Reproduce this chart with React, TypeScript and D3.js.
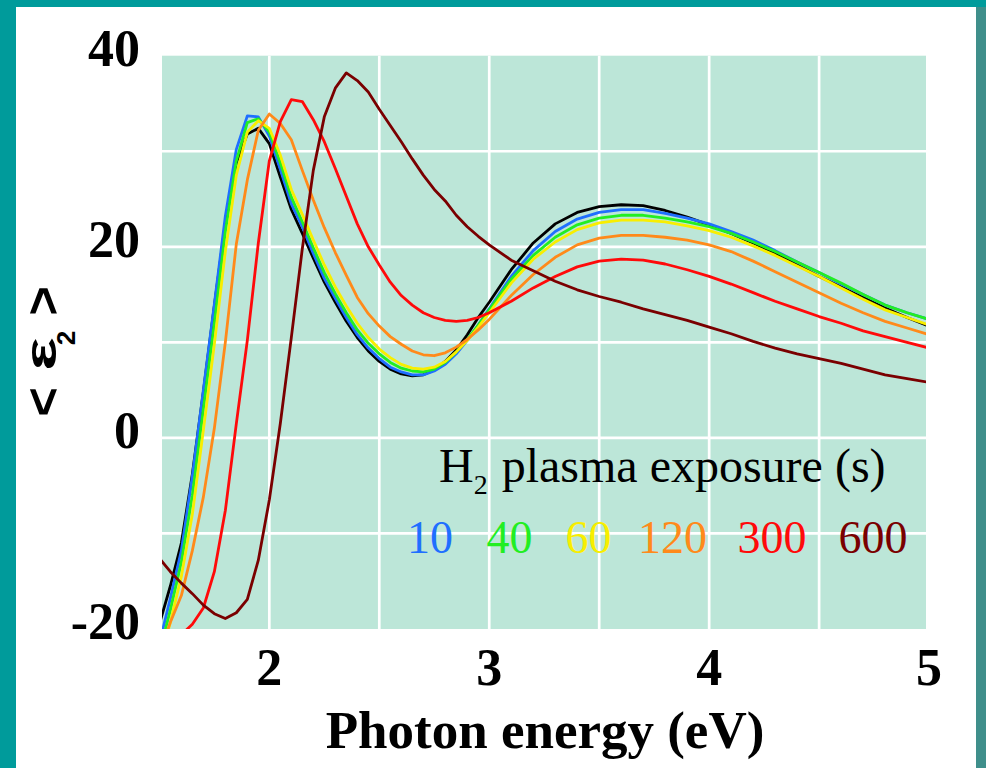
import React from 'react';
import * as d3 from 'd3';

// Photon energy grid (eV) shared by all spectra
const energies = [
  1.5, 1.55, 1.6, 1.65, 1.7, 1.75, 1.8, 1.85, 1.9, 1.95,
  2.0, 2.05, 2.1, 2.15, 2.2, 2.25, 2.3, 2.35, 2.4, 2.45,
  2.5, 2.55, 2.6, 2.65, 2.7, 2.75, 2.8, 2.85, 2.9, 2.95,
  3.0, 3.1, 3.2, 3.3, 3.4, 3.5, 3.6, 3.7, 3.8, 3.9,
  4.0, 4.1, 4.2, 4.3, 4.4, 4.5, 4.6, 4.7, 4.8, 4.9, 5.0,
];

// <ε2> spectra, one array per exposure time
const eps0 = [
  -19.5, -15.5, -11.0, -3.8, 4.8, 13.8, 22.5, 28.8, 31.8, 32.4,
  30.8, 27.3, 23.9, 21.4, 18.8, 16.3, 14.2, 12.2, 10.5, 9.1,
  8.0, 7.2, 6.7, 6.5, 6.6, 7.1, 8.0, 9.2, 10.8, 12.6,
  14.2, 17.6, 20.4, 22.4, 23.6, 24.2, 24.4, 24.3, 23.8, 23.1,
  22.3, 21.4, 20.4, 19.3, 18.1, 16.9, 15.8, 14.7, 13.6, 12.6, 11.7,
];
const eps10 = [
  -21.5, -16.8, -11.8, -4.0, 5.0, 14.0, 23.2, 30.2, 33.7, 33.6,
  31.6, 28.1, 24.5, 22.1, 19.3, 16.7, 14.6, 12.6, 10.8, 9.4,
  8.3, 7.4, 6.9, 6.6, 6.6, 7.0, 7.7, 8.8, 10.2, 11.8,
  13.5, 16.9, 19.6, 21.6, 22.9, 23.6, 23.9, 23.9, 23.5, 23.0,
  22.4, 21.6, 20.7, 19.6, 18.4, 17.3, 16.1, 15.0, 13.9, 13.1, 12.4,
];
const eps40 = [
  -22.5, -18.0, -13.0, -6.0, 3.0, 12.0, 21.6, 29.0, 33.0, 33.4,
  32.0, 28.8, 25.2, 22.6, 19.9, 17.3, 15.1, 13.1, 11.3, 9.9,
  8.8, 7.9, 7.3, 7.0, 6.9, 7.2, 7.9, 9.0, 10.3, 11.8,
  13.4, 16.6, 19.1, 21.0, 22.3, 23.0, 23.3, 23.3, 23.0, 22.6,
  22.1, 21.4, 20.5, 19.5, 18.4, 17.3, 16.2, 15.0, 13.9, 13.1, 12.4,
];
const eps60 = [
  -23.5, -19.3, -14.5, -8.0, 0.8, 9.8, 19.5, 27.5, 32.0, 33.2,
  32.4, 29.6, 26.0, 23.4, 20.7, 18.1, 15.8, 13.8, 12.0, 10.5,
  9.3, 8.4, 7.7, 7.3, 7.2, 7.4, 8.0, 9.0, 10.2, 11.6,
  13.1, 16.2, 18.7, 20.5, 21.8, 22.5, 22.8, 22.8, 22.6, 22.2,
  21.7, 21.0, 20.1, 19.1, 18.0, 16.9, 15.7, 14.5, 13.4, 12.6, 11.8,
];
const eps120 = [
  -22.5, -19.3, -16.5, -11.8, -6.2, 1.0, 10.0, 20.3, 27.0, 32.2,
  33.9, 32.9, 31.2, 28.0, 24.9, 22.0, 19.4, 17.0, 14.7, 13.0,
  11.7, 10.6, 9.8, 9.1, 8.7, 8.6, 8.9, 9.5, 10.3, 11.3,
  12.4, 14.9, 17.1, 18.9, 20.2, 20.9, 21.2, 21.2, 21.0, 20.7,
  20.2, 19.5, 18.5, 17.4, 16.3, 15.2, 14.1, 13.1, 12.2, 11.5, 10.8,
];
const eps300 = [
  -21.5, -21.0, -20.6, -19.5, -17.8, -14.0, -7.6, 1.5, 10.2, 20.4,
  29.0, 33.1, 35.4, 35.2, 33.3, 31.0, 28.2, 25.3, 22.4, 20.0,
  18.1, 16.3, 14.9, 13.9, 13.1, 12.6, 12.3, 12.2, 12.3, 12.6,
  13.1, 14.3, 15.7, 16.9, 17.9, 18.5, 18.7, 18.6, 18.2, 17.6,
  16.9, 16.1, 15.2, 14.3, 13.5, 12.7, 12.0, 11.2, 10.6, 10.0, 9.4,
];
const eps600 = [
  -12.6, -14.0, -15.2, -16.3, -17.5, -18.4, -18.9, -18.3, -16.9, -12.8,
  -6.5, 1.5, 10.5, 19.8, 28.0, 33.6, 36.6, 38.2, 37.4, 36.2,
  34.4, 32.7, 31.0, 29.2, 27.5, 26.0, 24.8, 23.3, 22.1, 21.1,
  20.2, 18.6, 17.5, 16.4, 15.5, 14.8, 14.2, 13.5, 12.9, 12.3,
  11.6, 10.9, 10.1, 9.4, 8.8, 8.3, 7.8, 7.2, 6.6, 6.2, 5.8,
];

const seriesColors = ['#000000', '#1f6fff', '#22ee22', '#f8ee00', '#ff8a1a', '#ff0a0a', '#7a0000'];
const seriesValues = [eps0, eps10, eps40, eps60, eps120, eps300, eps600];

const legendLabels = ['10', '40', '60', '120', '300', '600'];
const legendColors = seriesColors.slice(1);
const legendCenters = [430, 509.5, 588.5, 672.5, 772, 873];

const xTicks = [2, 3, 4, 5];
const yTicks = [-20, 0, 20, 40];
const xGrid = [2, 2.5, 3, 3.5, 4, 4.5];
const yGrid = [-10, 0, 10, 20, 30];

const W = 986;
const H = 768;
const plot = { left: 162, right: 926, top: 55.7, bottom: 629 };

export default function App() {
  const x = d3.scaleLinear().domain([1.512, 4.986]).range([plot.left, plot.right]);
  const y = d3.scaleLinear().domain([-20, 40]).range([plot.bottom, plot.top]);

  const line = d3
    .line<number>()
    .x((_, i) => x(energies[i]))
    .y((d) => y(d));

  const serif = '"Liberation Serif", "Times New Roman", serif';
  const sans = '"Liberation Sans", Arial, sans-serif';

  return (
    <svg
      width={W}
      height={H}
      style={{ position: 'absolute', left: 0, top: 0, display: 'block' }}
    >
      <defs>
        <clipPath id="plotClip">
          <rect x={plot.left} y={plot.top} width={plot.right - plot.left} height={plot.bottom - plot.top} />
        </clipPath>
      </defs>

      {/* frame */}
      <rect x={0} y={0} width={W} height={H} fill="#009b9b" />
      <rect x={976} y={7} width={10} height={H - 7} fill="#3f8f8b" />
      <rect x={16} y={7} width={960} height={H - 7} fill="#ffffff" />

      {/* plot background and grid */}
      <rect
        x={plot.left}
        y={plot.top}
        width={plot.right - plot.left}
        height={plot.bottom - plot.top}
        fill="#bce6d8"
      />
      {xGrid.map((g) => (
        <line key={`gx${g}`} x1={x(g)} x2={x(g)} y1={plot.top} y2={plot.bottom} stroke="#ffffff" strokeWidth={2.7} />
      ))}
      {yGrid.map((g) => (
        <line key={`gy${g}`} x1={plot.left} x2={plot.right} y1={y(g)} y2={y(g)} stroke="#ffffff" strokeWidth={2.7} />
      ))}

      {/* spectra */}
      <g clipPath="url(#plotClip)">
        {seriesValues.map((vals, i) => (
          <path
            key={i}
            d={line(vals) ?? ''}
            fill="none"
            stroke={seriesColors[i]}
            strokeWidth={2.8}
            strokeLinejoin="round"
          />
        ))}
      </g>

      {/* y tick labels */}
      {yTicks.map((t) => (
        <text
          key={`ty${t}`}
          x={140}
          y={y(t) + 10}
          textAnchor="end"
          fontFamily={serif}
          fontWeight="bold"
          fontSize={52}
        >
          {t}
        </text>
      ))}

      {/* x tick labels */}
      {xTicks.map((t) => (
        <text
          key={`tx${t}`}
          x={x(t)}
          y={685}
          textAnchor="middle"
          fontFamily={serif}
          fontWeight="bold"
          fontSize={52}
        >
          {t}
        </text>
      ))}

      {/* axis titles */}
      <text x={545} y={748} textAnchor="middle" fontFamily={serif} fontWeight="bold" fontSize={53}>
        Photon energy (eV)
      </text>
      <g transform="translate(60,0) rotate(-90)" fontFamily={sans} fontWeight="bold">
        <text x={-402} y={0} textAnchor="middle" fontSize={50}>{'<'}</text>
        <text transform="translate(-354,-4) scale(1.6,1)" textAnchor="middle" fontSize={44}>ε</text>
        <text x={-338} y={15} textAnchor="middle" fontSize={26}>2</text>
        <text x={-301} y={0} textAnchor="middle" fontSize={50}>{'>'}</text>
      </g>

      {/* legend */}
      <text x={439} y={482} fontFamily={serif} fontSize={48}>
        H
        <tspan fontSize={28} dy={12}>2</tspan>
        <tspan dy={-12} dx={2}>{' plasma exposure (s)'}</tspan>
      </text>
      {legendLabels.map((l, i) => (
        <text
          key={l}
          x={legendCenters[i]}
          y={553}
          textAnchor="middle"
          fontFamily={serif}
          fontSize={46}
          fill={legendColors[i]}
        >
          {l}
        </text>
      ))}
    </svg>
  );
}
